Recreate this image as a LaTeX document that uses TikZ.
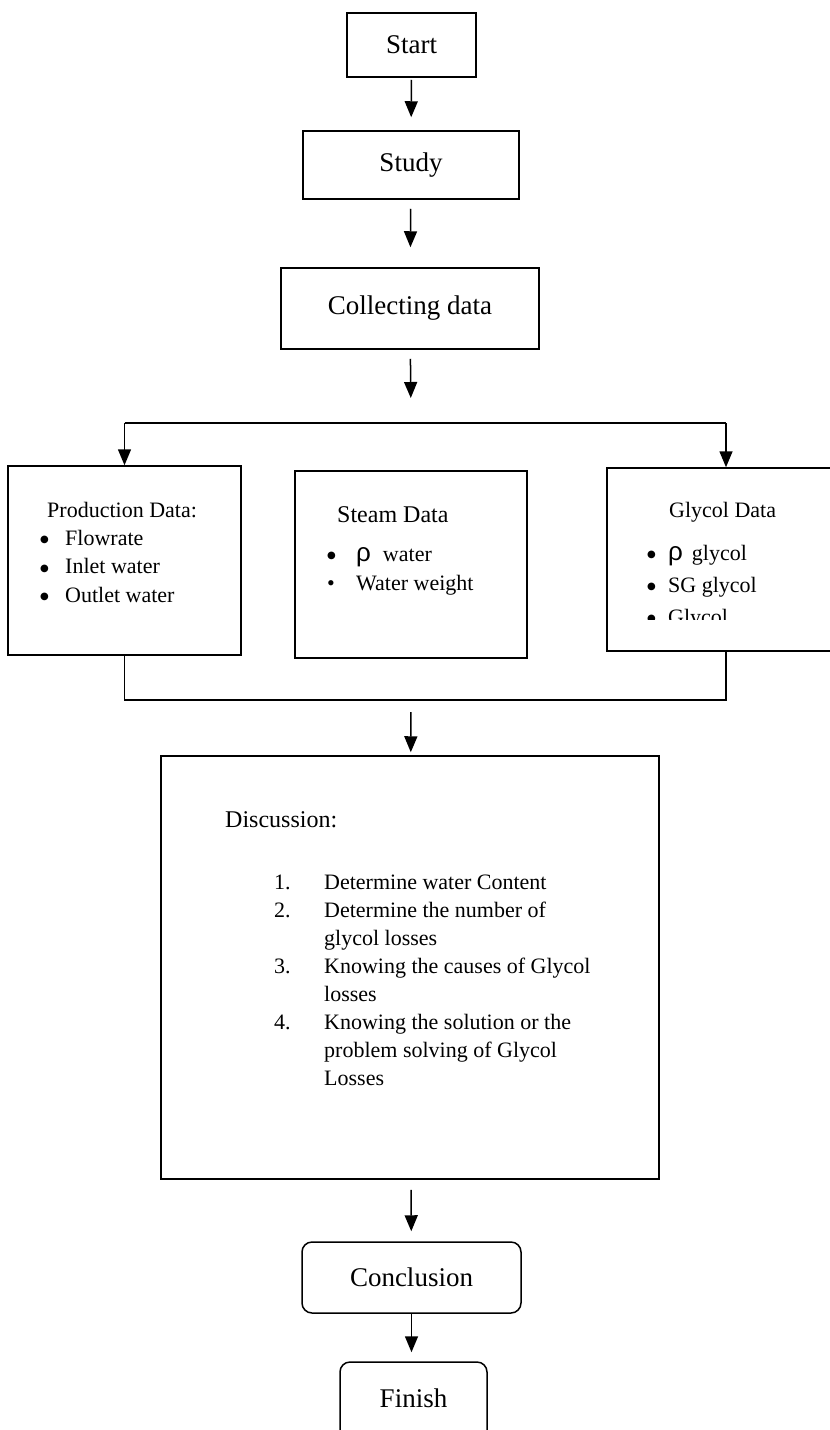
\documentclass[tikz,border=0pt]{standalone}
\usepackage{fontspec}
\setmainfont{Liberation Serif}
\newfontfamily\rhofont{Liberation Sans}
\newfontfamily\dotfont{DejaVu Sans}
\usetikzlibrary{arrows.meta, positioning}
\tikzset{
  flowbox/.style={rectangle, draw, line width=1.5pt, inner sep=0pt,
                  font=\fontsize{27}{32}\selectfont},
  endbox/.style={flowbox, rounded corners=10pt},
  flowarrow/.style={-{Triangle[length=16pt, width=13pt]}, line width=1.5pt},
  flowline/.style={line width=1.5pt},
  boxtitle/.style={inner sep=0pt, anchor=west, font=\fontsize{22}{26}\selectfont},
  boxlist/.style={inner sep=0pt, anchor=north west, align=left,
                  font=\fontsize{22}{28.5}\selectfont},
}
\newcommand{\bul}[1][25pt]{\makebox[#1][l]{\raisebox{2.5pt}{\dotfont\fontsize{10}{10}\selectfont ●}}}
\newcommand{\smallbul}[1][25pt]{\makebox[#1][l]{\textbullet}}
\newcommand{\rhosym}{{\rhofont\fontsize{26}{26}\selectfont ρ}}

\begin{document}
\begin{tikzpicture}[x=1pt, y=-1pt]
  \useasboundingbox (0,0) rectangle (830,1430);

  % top chain
  \node[flowbox, minimum width=129pt, minimum height=64pt] (start) at (411.5,45) {Start};
  \node[flowbox, minimum width=216pt, minimum height=68pt] (study) at (411,165) {Study};
  \node[flowbox, minimum width=258pt, minimum height=81pt] (collect) at (410,308.5)
       {\raisebox{7pt}{Collecting data}};
  \coordinate (split) at (411,423);

  \draw[flowarrow, shorten <=2pt, shorten >=13pt] (start) -- (study);
  \draw[flowarrow, shorten <=9pt, shorten >=20pt] (study) -- (collect);
  \draw[flowarrow, shorten <=9pt, shorten >=25pt] (collect) -- (split);

  % data boxes
  \node[flowbox, minimum width=233pt, minimum height=189pt] (prod) at (124.5,560.5) {};
  \node[flowbox, minimum width=232pt, minimum height=187pt] (steam) at (411,564.5) {};
  \node[flowbox, minimum width=238pt, minimum height=183pt] (glycol) at (726,559.5) {};

  \draw[flowline] (prod.north |- split) -- (glycol.north |- split);
  \draw[flowarrow] (prod.north |- split) -- (prod.north);
  \draw[flowarrow] (glycol.north |- split) -- (glycol.north);

  \node[boxtitle] (prodtitle) at (47,510) {Production Data:};
  \node[boxlist] (prodlist) at (40,530)
       {\bul Flowrate\\ \bul Inlet water\\ \bul Outlet water};

  \node[boxtitle, font=\fontsize{24}{28}\selectfont] (steamtitle) at (337,515) {Steam Data};
  \node[boxlist, font=\fontsize{22}{29}\selectfont] (steamlist) at (327,547)
       {\bul[29pt]\rhosym\hspace{12pt}water\\ \smallbul[29pt]Water weight};

  \node[boxtitle] (glycoltitle) at (669,512) {Glycol Data};
  \begin{scope}
    \clip (600,460) rectangle (830,619);
    \node[boxlist, font=\fontsize{22}{32}\selectfont] (glycollist) at (647,545)
         {\bul[21pt]\rhosym\hspace{9pt}glycol\\ \bul[21pt]SG glycol\\ \bul[21pt]Glycol};
  \end{scope}

  % merge
  \coordinate (merge) at (411,700);
  \draw[flowline] (prod.south) -- (prod.south |- merge) -- (glycol.south |- merge) -- (glycol.south);

  % discussion
  \node[flowbox, minimum width=498pt, minimum height=423pt] (disc) at (410,967.5) {};
  \draw[flowarrow, shorten <=12pt, shorten >=3pt] (merge) -- (disc);
  \node[boxtitle, font=\fontsize{24}{28}\selectfont] (disctitle) at (225,820) {Discussion:};
  \node[boxlist, font=\fontsize{22}{27.9}\selectfont] (disclist) at (274,870)
       {\begin{tabular}{@{}p{50pt}@{}l@{}}
          1. & Determine water Content\\
          2. & Determine the number of\\
             & glycol losses\\
          3. & Knowing the causes of Glycol\\
             & losses\\
          4. & Knowing the solution or the\\
             & problem solving of Glycol\\
             & Losses
        \end{tabular}};

  % end chain
  \node[endbox, minimum width=219pt, minimum height=71pt] (concl) at (411.5,1277.5) {Conclusion};
  \node[endbox, minimum width=147pt, minimum height=90pt] (finish) at (413.5,1407)
       {\raisebox{17pt}{Finish}};
  \draw[flowarrow, shorten <=10pt, shorten >=10pt] (disc) -- (concl);
  \draw[flowarrow, shorten >=9pt] (concl) -- (concl.south |- finish.north);
\end{tikzpicture}
\end{document}
